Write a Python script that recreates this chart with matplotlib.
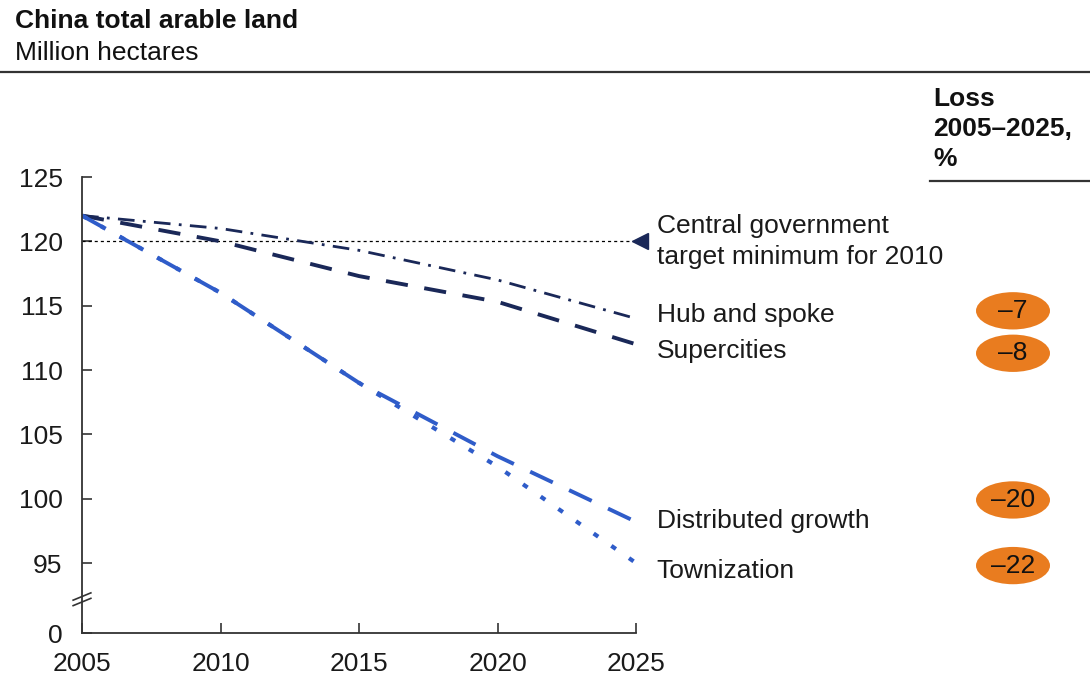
import numpy as np
import matplotlib
import matplotlib.pyplot as plt
from matplotlib.patches import Ellipse
from matplotlib.lines import Line2D
import matplotlib.transforms as mtransforms

plt.rcParams['font.family'] = ['Liberation Sans', 'DejaVu Sans']
plt.rcParams['lines.scale_dashes'] = False

years = [2005, 2010, 2015, 2020, 2025]
hub_and_spoke = [122, 121, 119.3, 117, 114]
supercities = [122, 120, 117.3, 115.3, 112]
distributed_growth = [122, 116, 109, 103.3, 98.2]
townization = [122, 116, 109, 102.5, 95]

scenario_names = ["Hub and spoke", "Supercities", "Distributed growth", "Townization"]
loss_pct = [-7, -8, -20, -22]
target_min = 120

y_ticks = [0, 95, 100, 105, 110, 115, 120, 125]
x_ticks = [2005, 2010, 2015, 2020, 2025]

navy = "#1a2858"
blue = "#2f5cc9"
orange = "#e97c1f"
FS = 19

# axis is broken between 0 and ~92
BREAK = 92.0
ZERO_POS = 89.56


def fwd(v):
    v = np.asarray(v, dtype=float)
    return np.where(v >= BREAK, v, ZERO_POS + v * (BREAK - ZERO_POS) / BREAK)


def inv(v):
    v = np.asarray(v, dtype=float)
    return np.where(v >= BREAK, v, (v - ZERO_POS) * BREAK / (BREAK - ZERO_POS))


fig = plt.figure(figsize=(10.9, 6.79), dpi=100)
ax = fig.add_axes([82 / 1090, 46 / 679, 554 / 1090, 456 / 679])
ax.set_yscale('function', functions=(fwd, inv))

ax.plot(years, [target_min] * len(years), color="black", lw=0.9, dashes=(2.2, 2.2))
ax.plot(years, hub_and_spoke, color=navy, lw=2.0, dashes=(12, 6, 2, 6))
ax.plot(years, supercities, color=navy, lw=2.8, dashes=(16, 12))
ax.plot(years, distributed_growth, color=blue, lw=2.8, dashes=(18, 13))
ax.plot(years, townization, color=blue, lw=3.0, dashes=(4, 11.5))
ax.plot([2025.15], [target_min], marker='<', color=navy, markersize=12, clip_on=False)

ax.set_xlim(2005, 2025)
ax.set_ylim(0, 125)
ax.set_xticks(x_ticks)
ax.set_yticks(y_ticks)
ax.set_yticklabels([str(t) for t in y_ticks])
ax.tick_params(axis='both', direction='in', length=7, width=1.2, labelsize=FS,
               color="#333333", labelcolor="#1a1a1a")
ax.tick_params(axis='y', pad=14)
ax.tick_params(axis='x', pad=14)
ax.minorticks_off()
for s in ['top', 'right']:
    ax.spines[s].set_visible(False)
for s in ['left', 'bottom']:
    ax.spines[s].set_linewidth(1.3)
    ax.spines[s].set_color("#333333")

# break marks on the y axis
for yy in (0.068, 0.080):
    ax.plot([-0.016, 0.016], [yy - 0.008, yy + 0.008], transform=ax.transAxes,
            color="#333333", lw=1.2, clip_on=False)

# line labels
ends = [hub_and_spoke[-1], supercities[-1], distributed_growth[-1], townization[-1]]
label_shift = [0.3, -0.5, 0.1, -0.65]
for name, v, d in zip(scenario_names, ends, label_shift):
    ax.text(2025.75, v + d, name, fontsize=FS, va='center', ha='left', color="#1a1a1a")
ax.text(2025.75, target_min, "Central government\ntarget minimum for 2010", fontsize=FS,
        va='center', ha='left', color="#1a1a1a", linespacing=1.38)

# loss badges
badge_y = [114.6, 111.3, 99.9, 94.8]
btrans = mtransforms.blended_transform_factory(fig.transFigure, ax.transData)
bx = 1013 / 1090
for val, yv in zip(loss_pct, badge_y):
    ax.add_artist(Ellipse((bx, yv), 74 / 1090, 2.9, transform=btrans, facecolor=orange,
                          edgecolor='none', clip_on=False))
    ax.text(bx, yv, "\u2013" + str(abs(val)), transform=btrans, fontsize=FS,
            ha='center', va='center', color="#111111")

# header
fig.text(15 / 1090, 1 - 21 / 679, "China total arable land", fontsize=FS,
         fontweight='bold', va='center', ha='left', color="#111111")
fig.text(15 / 1090, 1 - 53 / 679, "Million hectares", fontsize=FS,
         va='center', ha='left', color="#111111")
fig.add_artist(Line2D([0, 1], [1 - 72 / 679, 1 - 72 / 679], transform=fig.transFigure,
                      color="#333333", lw=1.6))
fig.text(933 / 1090, 1 - 87 / 679, "Loss\n2005\u20132025,\n%", fontsize=FS,
         fontweight='bold', va='top', ha='left', color="#111111", linespacing=1.32)
fig.add_artist(Line2D([930 / 1090, 1], [1 - 181 / 679, 1 - 181 / 679],
                      transform=fig.transFigure, color="#333333", lw=1.6))

fig.savefig("out.png", dpi=100)
